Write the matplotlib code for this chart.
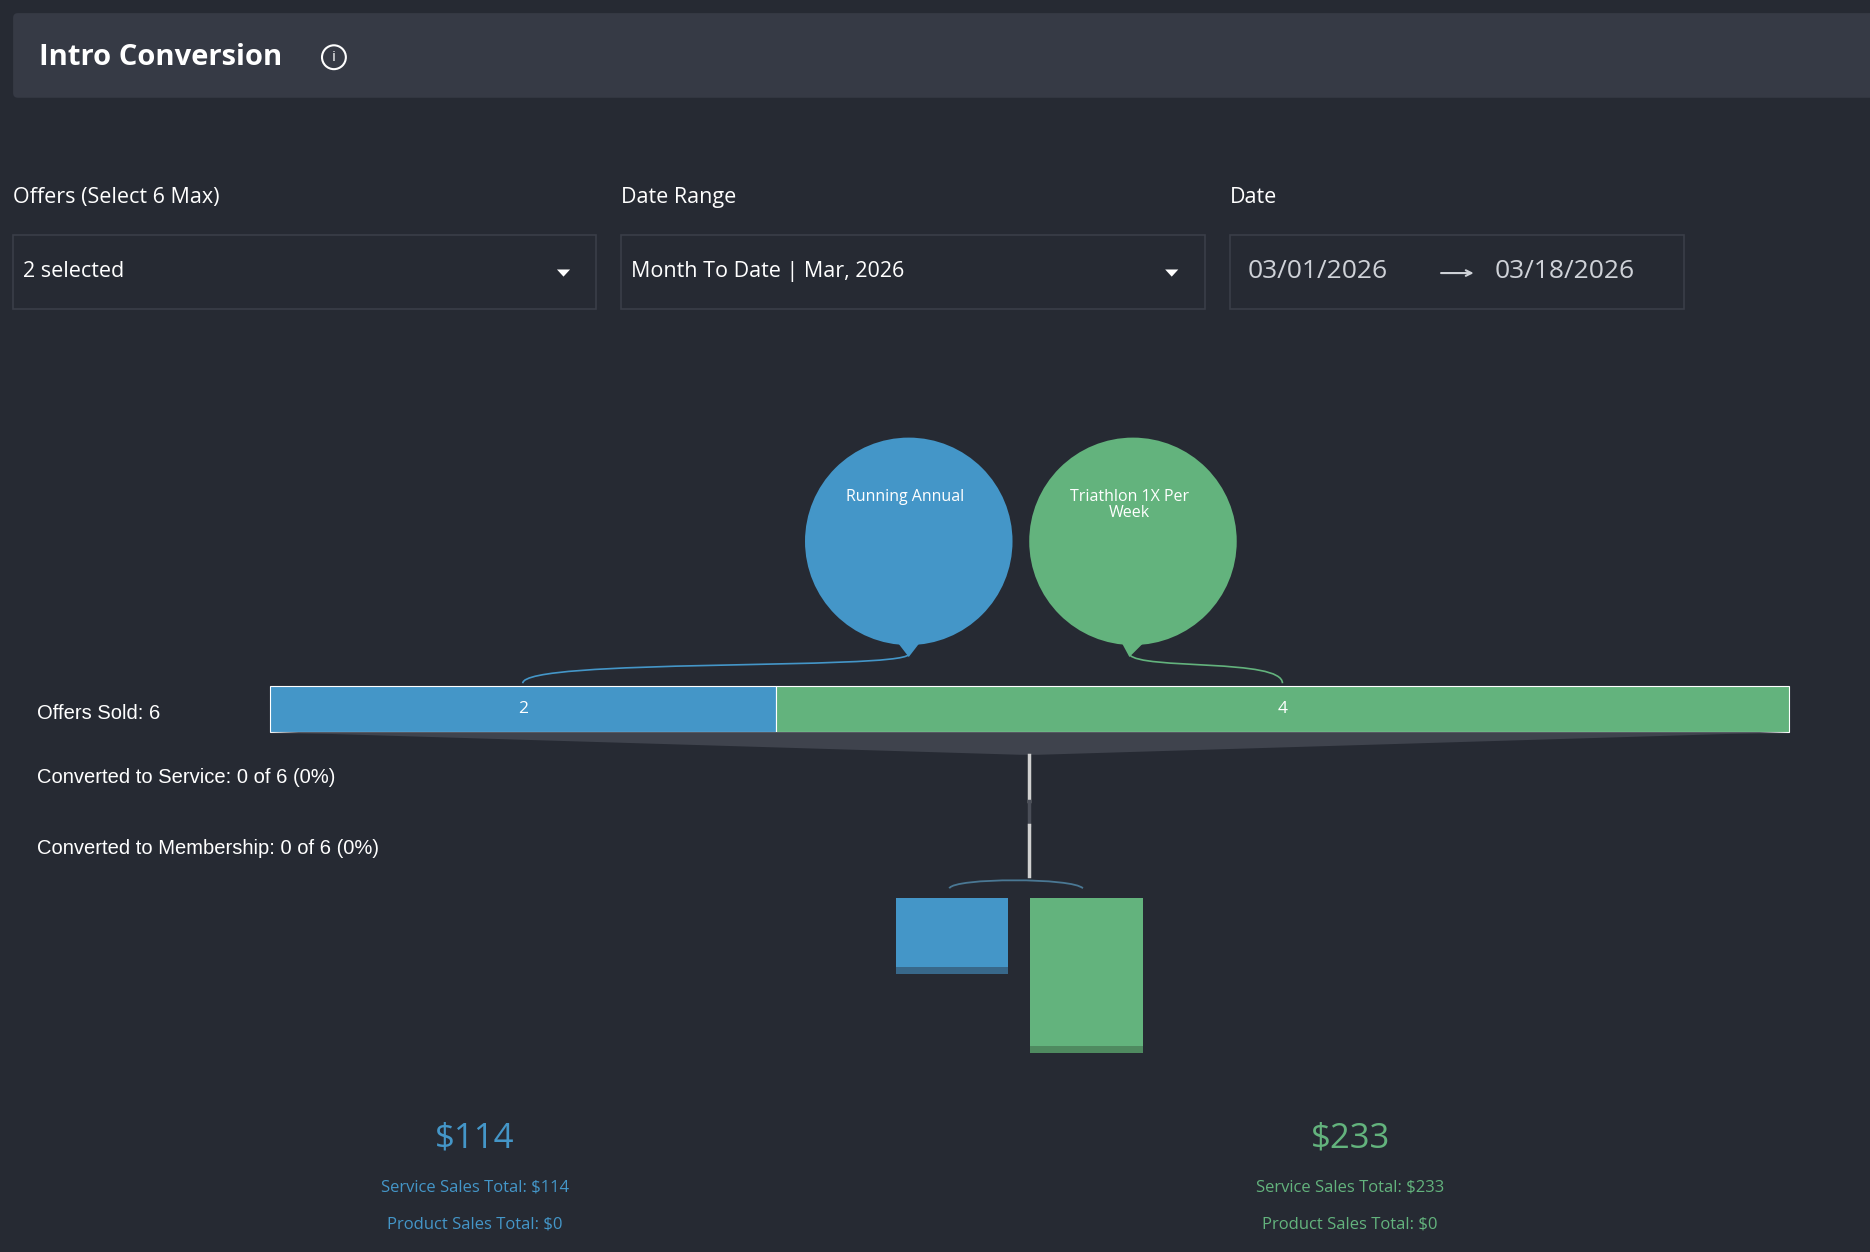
import numpy as np
import matplotlib
matplotlib.use("Agg")
import matplotlib.pyplot as plt
from matplotlib.patches import Rectangle, Circle, Polygon, FancyBboxPatch
from matplotlib.path import Path
from matplotlib.patches import PathPatch

offer_names = ["Running Annual", "Triathlon 1X Per\nWeek"]
offers_sold = [2, 4]
service_sales = [114, 233]
product_sales = [0, 0]
colors = ["#4496c8", "#63b37d"]
dark = ["#38688a", "#4f8a60"]

BG = "#262a33"
plt.rcParams["font.family"] = ["Open Sans", "DejaVu Sans"]
fig = plt.figure(figsize=(18.7, 12.52), dpi=100, facecolor=BG)
ax = fig.add_axes([0, 0, 1, 1])
ax.set_xlim(0, 1568); ax.set_ylim(1050, 0); ax.axis("off")
ax.set_facecolor(BG)

# header
ax.add_patch(FancyBboxPatch((11, 11), 1580, 71, boxstyle="round,pad=0,rounding_size=4",
                            fc="#363a45", ec="none"))
ax.text(33, 48, "Intro Conversion", color="white", fontsize=21, fontweight="bold", va="center")
ax.add_patch(Circle((280, 48), 10, fc="none", ec="white", lw=1.5))
ax.text(280, 48, "i", color="white", fontsize=11, ha="center", va="center")

# filters
for x0, x1, lab, val in [(11, 500, "Offers (Select 6 Max)", "2 selected"),
                         (521, 1010, "Date Range", "Month To Date | Mar, 2026")]:
    ax.text(x0, 166, lab, color="white", fontsize=15.5, va="center")
    ax.add_patch(Rectangle((x0, 197), x1 - x0, 62, fc="none", ec="#3a3e48", lw=1.2))
    ax.text(x0 + 8, 228, val, color="white", fontsize=15.5, va="center")
    ax.add_patch(Polygon([[x1 - 33, 226], [x1 - 22, 226], [x1 - 27.5, 232]], fc="white", ec="none"))
ax.text(1031, 166, "Date", color="white", fontsize=15.5, va="center")
ax.add_patch(Rectangle((1031, 197), 381, 62, fc="none", ec="#3a3e48", lw=1.2))
ax.text(1046, 228, "03/01/2026", color="#cfd2d8", fontsize=19, va="center")
ax.text(1253, 228, "03/18/2026", color="#cfd2d8", fontsize=19, va="center")
ax.annotate("", xy=(1238, 229), xytext=(1206, 229),
            arrowprops=dict(arrowstyle="->", color="#cfd2d8", lw=1.5))

# main bar
bx0, bx1, by, bh = 226, 1500, 575, 39
total = sum(offers_sold)
scale = (bx1 - bx0) / total
x = bx0
mids = []
for n, c in zip(offers_sold, colors):
    ax.add_patch(Rectangle((x, by), n * scale, bh, fc=c, ec="white", lw=0.8))
    mids.append(x + n * scale / 2)
    ax.text(x + n * scale / 2, by + bh / 2, str(n), color="white", fontsize=12.5,
            ha="center", va="center")
    x += n * scale
ax.text(31, 598, f"Offers Sold: {total}", color="white", fontsize=14.5, va="center",
        family=["Liberation Sans", "DejaVu Sans"])

# funnel
cx = 863
ax.add_patch(Polygon([[bx0, 614], [bx1, 614], [cx + 8, 633], [cx - 8, 633]], fc="#3f434d", ec="none"))
ax.plot([cx, cx], [633, 672], color="#d0d0d0", lw=2.5)
ax.plot([cx, cx], [672, 692], color="#4a4e58", lw=2.5)
ax.plot([cx, cx], [692, 735], color="#d0d0d0", lw=2.5)
conv = [("Converted to Service", 652), ("Converted to Membership", 712)]
for lab, y in conv:
    ax.text(31, y, f"{lab}: 0 of {total} (0%)", color="white", fontsize=14.5, va="center",
            family=["Liberation Sans", "DejaVu Sans"])

# bubbles
bub_x = [762, 950]
for bxc, name, c, m in zip(bub_x, offer_names, colors, mids):
    ax.add_patch(Circle((bxc, 454), 87, fc=c, ec="none"))
    ax.add_patch(Polygon([[bxc - 10, 538], [bxc + 10, 538], [bxc - 3 if c == colors[1] else bxc, 551]],
                         fc=c, ec="none"))
    ax.text(bxc - 3, 410, name, color="white", fontsize=11.5, ha="center", va="top",
            linespacing=1.0)
    tip = bxc if c == colors[0] else bxc - 3
    verts = [(tip, 549), (tip, 562), (m, 555), (m, 573)] if False else None
    path = Path([(tip, 549), (tip - 10 if m < tip else tip + 10, 562), (m, 552), (m, 573)],
                [Path.MOVETO, Path.CURVE4, Path.CURVE4, Path.CURVE4])
    ax.add_patch(PathPatch(path, fc="none", ec=c, lw=1.2))

# bracket to small bars
path = Path([(796, 745), (800, 736), (900, 736), (908, 745)],
            [Path.MOVETO, Path.CURVE4, Path.CURVE4, Path.CURVE4])
ax.add_patch(PathPatch(path, fc="none", ec="#4a7894", lw=1.3))

# small sales bars
hscale = 130 / max(service_sales)
for sx, s, c, d in zip([751, 864], service_sales, colors, dark):
    h = s * hscale
    ax.add_patch(Rectangle((sx, 753), 94, h, fc=c, ec="none"))
    ax.add_patch(Rectangle((sx, 753 + h - 6), 94, 6, fc=d, ec="none"))

# totals
for tx, s, p, c in zip([398, 1132], service_sales, product_sales, colors):
    ax.text(tx, 955, f"${s}", color=c, fontsize=25, ha="center", va="center")
    ax.text(tx, 996, f"Service Sales Total: ${s}", color=c, fontsize=12, ha="center", va="center")
    ax.text(tx, 1027, f"Product Sales Total: ${p}", color=c, fontsize=12, ha="center", va="center")

fig.savefig("out.png", dpi=100, facecolor=BG)
